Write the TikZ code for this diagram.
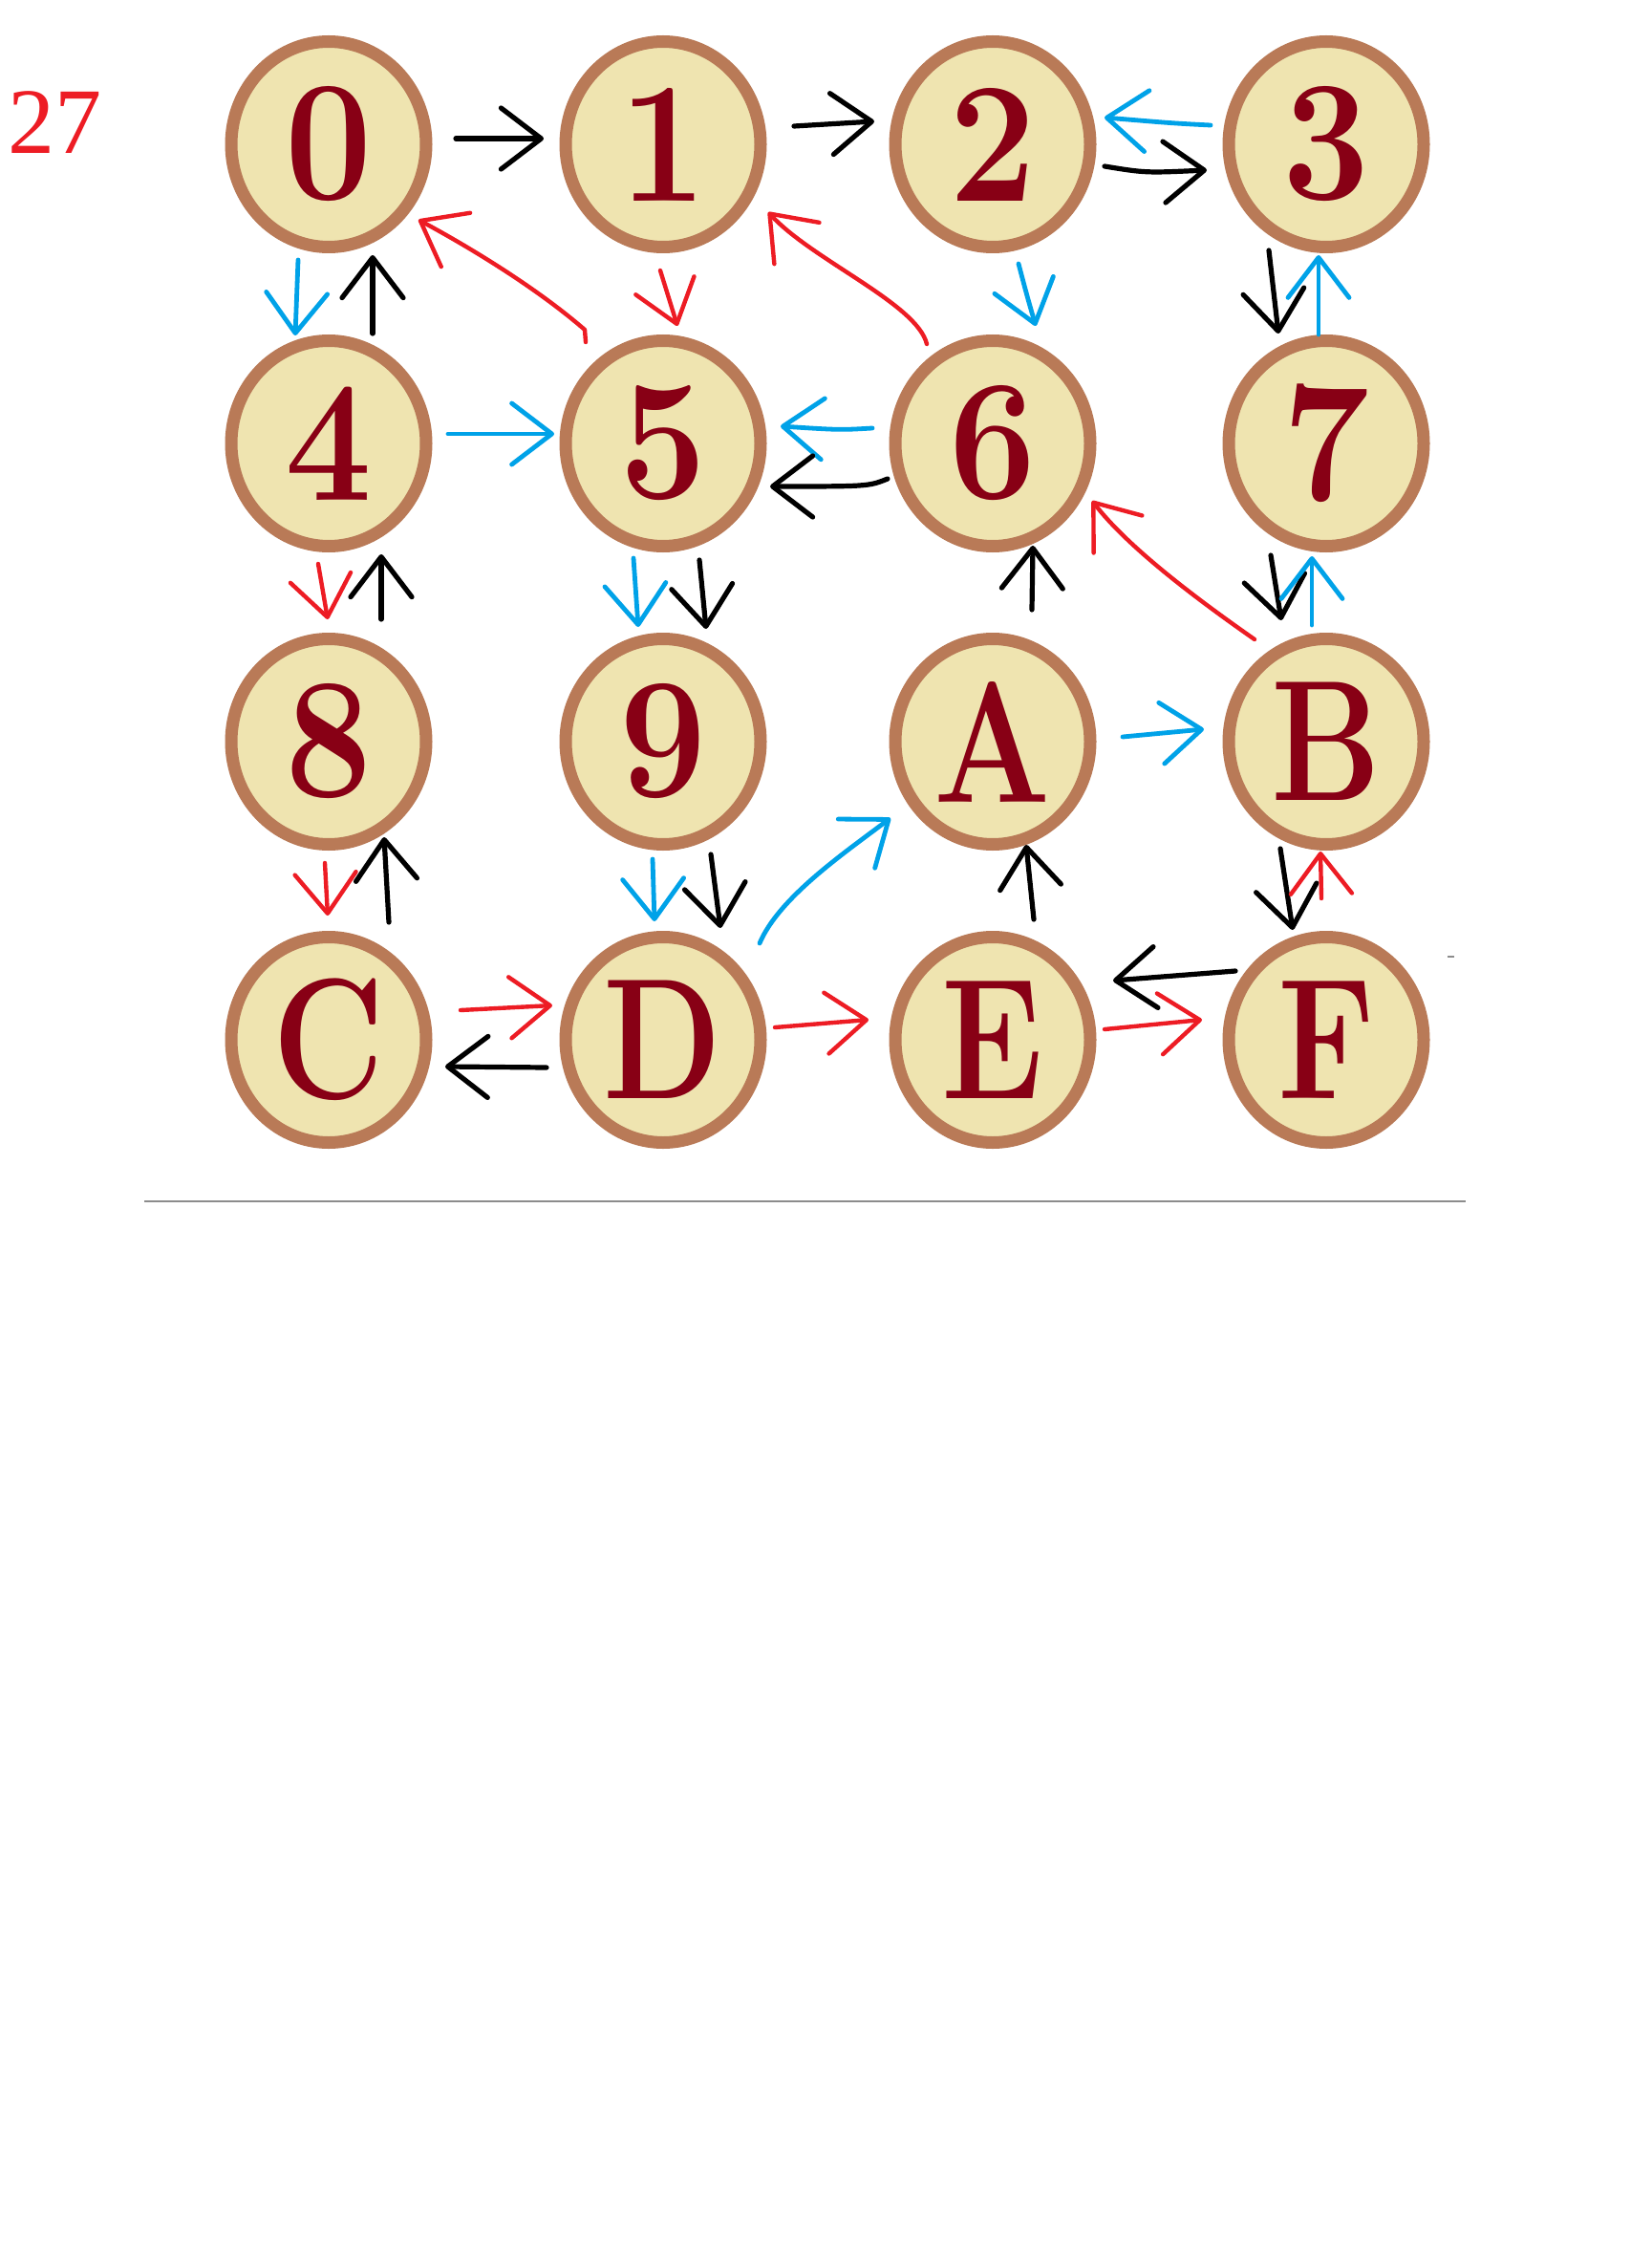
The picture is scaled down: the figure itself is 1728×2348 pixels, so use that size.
\documentclass[tikz,border=0pt]{standalone}
\usepackage{fontspec}
\usepackage{graphicx}
\newfontfamily\libser{Liberation Serif}
\usetikzlibrary{shapes.geometric,arrows.meta}
\definecolor{ringc}{RGB}{185,122,87}
\definecolor{creamc}{RGB}{239,228,176}
\definecolor{dredc}{RGB}{136,0,21}
\definecolor{pbluec}{RGB}{0,162,232}
\definecolor{predc}{RGB}{237,28,36}
\definecolor{grayc}{RGB}{140,140,140}
\tikzset{
  coin/.style={ellipse, draw=ringc, fill=creamc, line width=6.5pt,
    minimum width=102pt, minimum height=107.5pt, inner sep=0pt,
    text=dredc, font=\fontsize{90}{90}\selectfont\bfseries},
  arr/.style={line width=2.6pt, line cap=round, line join=round,
    -{Straight Barb[length=21pt,width=32pt,round]}},
  blk/.style={arr, draw=black},
  blu/.style={arr, draw=pbluec, line width=2.4pt},
  rd/.style={arr, draw=predc, line width=2.2pt},
}
\newcommand\dg[1]{\scalebox{0.9}[1]{#1}}
\newcommand\lt[1]{\scalebox{0.8}[1]{#1}}
\begin{document}
\begin{tikzpicture}[x=0.5pt,y=-0.5pt]
\fill[white] (0,0) rectangle (1728,2348);
\useasboundingbox (0,0) rectangle (1728,2348);
% label
\node[text=predc, font=\libser\fontsize{49}{49}\selectfont, inner sep=0pt] (lab) at (58,128) {27};
% nodes
\node[coin] (n0) at (344,151) {\dg{0}};
\node[coin] (n1) at (694,151) {\dg{1}};
\node[coin] (n2) at (1039,151) {\dg{2}};
\node[coin] (n3) at (1388,151) {\dg{3}};
\node[coin] (n4) at (344,464) {\dg{4}};
\node[coin] (n5) at (694,464) {\dg{5}};
\node[coin] (n6) at (1039,464) {\dg{6}};
\node[coin] (n7) at (1388,464) {\dg{7}};
\node[coin] (n8) at (344,776) {\dg{8}};
\node[coin] (n9) at (694,776) {\dg{9}};
\node[coin] (nA) at (1039,776) {\lt{A}};
\node[coin] (nB) at (1388,776) {\lt{B}};
\node[coin] (nC) at (344,1088) {\lt{C}};
\node[coin] (nD) at (694,1088) {\lt{D}};
\node[coin] (nE) at (1039,1088) {\lt{E}};
\node[coin] (nF) at (1388,1088) {\lt{F}};
% row 1 horizontal
\draw[blk] ([shift={(133,-6)}]n0.center) -- ([shift={(-125,-6)}]n1.center);
\draw[blk] ([shift={(137,-19)}]n1.center) -- ([shift={(-124,-24)}]n2.center);
\draw[blu] ([shift={(-121,-20)}]n3.center) .. controls ([shift={(-160,-22)}]n3.center) .. ([shift={(117,-28)}]n2.center);
\draw[blk] ([shift={(117,23)}]n2.center) .. controls ([shift={(160,30)}]n2.center) .. ([shift={(-125,27)}]n3.center);
% row 1 - row 2 vertical
\draw[blu] ([shift={(-32,121)}]n0.center) -- ([shift={(-35,-113)}]n4.center);
\draw[blk] ([shift={(46,-115)}]n4.center) -- ([shift={(46,116)}]n0.center);
\draw[rd] ([shift={(-81,-106)}]n5.center) -- ([shift={(-82,-119)}]n5.center) .. controls (560,300) and (490,258) .. ([shift={(94,79)}]n0.center);
\draw[rd] ([shift={(-3,132)}]n1.center) -- ([shift={(15,-123)}]n5.center);
\draw[rd] ([shift={(-69,-104)}]n6.center) .. controls (960,318) and (850,272) .. ([shift={(110,71)}]n1.center);
\draw[blu] ([shift={(27,125)}]n2.center) .. controls (1075,310) .. ([shift={(45,-123)}]n6.center);
\draw[blk] ([shift={(-60,111)}]n3.center) -- ([shift={(-50,-115)}]n7.center);
\draw[blu] ([shift={(-8,-114)}]n7.center) -- ([shift={(-8,116)}]n3.center);
% row 2 horizontal
\draw[blu] ([shift={(125,-10)}]n4.center) -- ([shift={(-114,-10)}]n5.center);
\draw[blu] ([shift={(-126,-16)}]n6.center) .. controls ([shift={(-160,-14)}]n6.center) .. ([shift={(123,-18)}]n5.center);
\draw[blk] ([shift={(-110,37)}]n6.center) .. controls ([shift={(-130,45)}]n6.center) .. ([shift={(112,45)}]n5.center);
% row 2 - row 3 vertical
\draw[rd] ([shift={(-11,126)}]n4.center) -- ([shift={(-1,-128)}]n8.center);
\draw[blk] ([shift={(55,-128)}]n8.center) -- ([shift={(55,116)}]n4.center);
\draw[blu] ([shift={(-31,120)}]n5.center) -- ([shift={(-26,-120)}]n9.center);
\draw[blk] ([shift={(38,122)}]n5.center) -- ([shift={(45,-118)}]n9.center);
\draw[blk] ([shift={(41,-138)}]nA.center) -- ([shift={(42,107)}]n6.center);
\draw[rd] ([shift={(-75,-107)}]nB.center) .. controls (1250,625) and (1180,572) .. ([shift={(104,60)}]n6.center);
\draw[blk] ([shift={(-58,117)}]n7.center) -- ([shift={(-47,-127)}]nB.center);
\draw[blu] ([shift={(-15,-122)}]nB.center) -- ([shift={(-15,118)}]n7.center);
% row 3 horizontal
\draw[blu] ([shift={(136,-5)}]nA.center) -- ([shift={(-128,-13)}]nB.center);
% row 3 - row 4 vertical
\draw[rd] ([shift={(-4,127)}]n8.center) -- ([shift={(-1,-130)}]nC.center);
\draw[blk] ([shift={(63,-123)}]nC.center) -- ([shift={(58,100)}]n8.center);
\draw[blu] ([shift={(-11,123)}]n9.center) -- ([shift={(-9,-124)}]nD.center);
\draw[blk] ([shift={(50,118)}]n9.center) -- ([shift={(60,-117)}]nD.center);
\draw[blu] ([shift={(101,-101)}]nD.center) .. controls (815,940) and (880,895) .. ([shift={(-107,80)}]nA.center);
\draw[blk] ([shift={(43,-126)}]nE.center) -- ([shift={(35,108)}]nA.center);
\draw[blk] ([shift={(-48,112)}]nB.center) -- ([shift={(-35,-115)}]nF.center);
\draw[rd] ([shift={(-5,-148)}]nF.center) -- ([shift={(-6,115)}]nB.center);
% row 4 horizontal
\draw[rd] ([shift={(138,-31)}]nC.center) -- ([shift={(-116,-36)}]nD.center);
\draw[blk] ([shift={(-122,29)}]nD.center) -- ([shift={(122,28)}]nC.center);
\draw[rd] ([shift={(117,-13)}]nD.center) -- ([shift={(-130,-21)}]nE.center);
\draw[blk] ([shift={(-95,-72)}]nF.center) -- ([shift={(126,-62)}]nE.center);
\draw[rd] ([shift={(117,-11)}]nE.center) -- ([shift={(-130,-21)}]nF.center);
% rule and mark
\draw[grayc, line width=1pt] (151,1257) coordinate (ruleL) -- (1534,1257) coordinate (ruleR);
\draw[grayc, line width=1.2pt] (1515,1001) coordinate (mkL) -- (1522,1001) coordinate (mkR);
\end{tikzpicture}
\end{document}
